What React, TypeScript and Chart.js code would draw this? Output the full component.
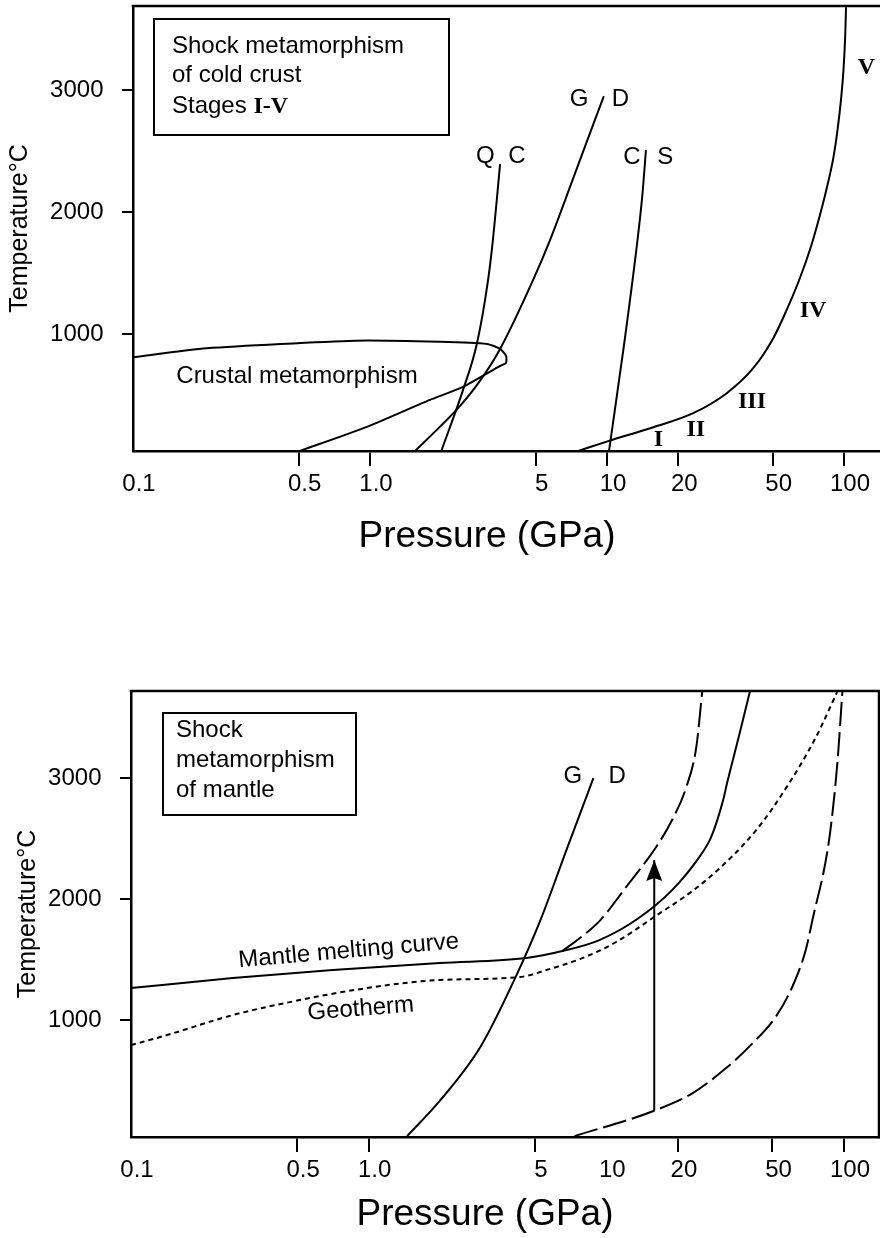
import React, { useEffect, useRef } from 'react';
import { Chart, registerables } from 'chart.js';

Chart.register(...registerables);

const SANS = "'Liberation Sans', Arial, Helvetica, sans-serif";
const SERIF = "'Liberation Serif', 'Times New Roman', Times, serif";

// ---------- axes ----------
const X_TICKS = [0.1, 0.5, 1, 5, 10, 20, 50, 100];
const X_TICK_LABELS = ['0.1', '0.5', '1.0', '5', '10', '20', '50', '100'];
const Y_TICKS = [1000, 2000, 3000];

// ---------- top panel: cold crust (P in GPa, T in °C) ----------
const CRUSTAL_P = [0.1, 0.204, 0.865, 1.97, 3.12, 3.54, 3.75, 3.75, 3.54, 2.47, 1.79, 0.971, 0.507];
const CRUSTAL_T = [809, 883, 945, 936, 918, 877, 820, 762, 738, 566, 459, 238, 41];

const QC_P = [2.0, 2.47, 2.83, 3.15, 3.3, 3.54];
const QC_T = [41, 541, 926, 1443, 1770, 2393];

const GD_TOP_P = [1.55, 1.97, 2.4, 2.91, 3.54, 4.88, 5.75, 7.47, 9.7];
const GD_TOP_T = [41, 238, 410, 615, 877, 1443, 1770, 2361, 2951];

const CS_P = [10.2, 11.8, 13.45, 14.1, 14.6];
const CS_T = [41, 910, 1770, 2139, 2508];

const SHOCK_P = [7.57, 10.2, 15.7, 23.1, 32.0, 41.4, 50.3, 57.3, 65.2, 72.9, 79.6, 85.2, 90.3, 93.9, 97.1, 99.5, 101.3, 102];
const SHOCK_T = [41, 123, 235, 350, 514, 719, 965, 1197, 1459, 1730, 1992, 2221, 2451, 2672, 2918, 3164, 3467, 3680];

// ---------- bottom panel: mantle ----------
const GD_BOT_P = [1.45, 1.99, 2.95, 4.15, 5.28, 6.79, 8.82];
const GD_BOT_T = [40, 331, 777, 1355, 1826, 2405, 3000];

const MELT_P = [0.1, 0.268, 0.706, 1.99, 4.61, 6.53, 9.35, 13.5, 18.9, 24.6, 27.35, 29.1, 31.0, 32.2, 36.4, 40.3];
const MELT_T = [1264, 1347, 1413, 1471, 1512, 1570, 1661, 1835, 2074, 2347, 2496, 2636, 2818, 2959, 3372, 3727];

const GEO_P = [0.1, 0.142, 0.268, 0.513, 0.981, 1.99, 4.31, 5.76, 7.93, 11.0, 15.2, 26.3, 42.7, 58.8, 76.2, 93.5];
const GEO_T = [793, 876, 1041, 1165, 1264, 1331, 1355, 1421, 1512, 1645, 1826, 2157, 2570, 2959, 3339, 3711];

const UPPER_DASH_P = [6.53, 7.93, 9.44, 12.1, 16.2, 18.9, 21.7, 23.9, 25.3];
const UPPER_DASH_T = [1570, 1694, 1826, 2099, 2430, 2653, 2926, 3256, 3711];

const LOWER_DASH_P = [7.34, 15.9, 23.0, 31.8, 41.2, 51.6, 60.6, 69.0, 73.6, 86.5, 93.7, 98.4];
const LOWER_DASH_T = [40, 250, 394, 601, 807, 1027, 1275, 1579, 1826, 2488, 3121, 3713];

const ARROW_P = [15.9, 15.9];
const ARROW_T = [250, 2322];

// ---------- text annotations (data coordinates) ----------
const TOP_LABELS = [
  { text: 'Q', p: 3.07, t: 2459 },
  { text: 'C', p: 4.17, t: 2459 },
  { text: 'G', p: 7.62, t: 2926 },
  { text: 'D', p: 11.4, t: 2926 },
  { text: 'C', p: 12.75, t: 2451 },
  { text: 'S', p: 17.6, t: 2451 },
  { text: 'Crustal metamorphism', p: 0.492, t: 656 },
];
const STAGE_LABELS = [
  { text: 'I', p: 16.5, t: 131 },
  { text: 'II', p: 23.7, t: 217 },
  { text: 'III', p: 40.9, t: 443 },
  { text: 'IV', p: 74.0, t: 1189 },
  { text: 'V', p: 124.5, t: 3184 },
];
const BOTTOM_LABELS = [
  { text: 'G', p: 7.23, t: 3017 },
  { text: 'D', p: 11.1, t: 3017 },
  { text: 'Mantle melting curve', p: 0.824, t: 1570, rot: -5 },
  { text: 'Geotherm', p: 0.926, t: 1091, rot: -4.5 },
];

const pts = (p: number[], t: number[]) => p.map((x, i) => ({ x, y: t[i] }));

function line(data: any[], opts: any = {}) {
  return {
    data,
    showLine: true,
    borderColor: '#000',
    backgroundColor: '#000',
    borderWidth: 2,
    pointRadius: 0,
    fill: false,
    cubicInterpolationMode: 'monotone',
    borderCapStyle: 'butt',
    borderJoinStyle: 'round',
    ...opts,
  };
}

function xScale(min: number, max: number, height: number, hidden: number[]) {
  return {
    type: 'logarithmic',
    position: 'bottom',
    min,
    max,
    afterBuildTicks: (s: any) => {
      s.ticks = X_TICKS.map((v) => ({ value: v }));
    },
    afterFit: (s: any) => {
      s.height = height;
      s.paddingLeft = 0;
      s.paddingRight = 0;
    },
    ticks: {
      autoSkip: false,
      maxRotation: 0,
      minRotation: 0,
      padding: 4,
      labelOffset: 6,
      color: '#000',
      font: { size: 24, family: SANS },
      callback: (_v: any, i: number) => X_TICK_LABELS[i],
    },
    grid: {
      drawOnChartArea: false,
      drawTicks: true,
      tickLength: 15,
      lineWidth: 2,
      color: (c: any) => (c.tick && hidden.includes(c.tick.value) ? 'rgba(0,0,0,0)' : '#000'),
    },
    border: { display: true, color: '#000', width: 2.5 },
  };
}

function yScale(min: number, max: number, width: number, titlePad: number) {
  return {
    type: 'linear',
    position: 'left',
    min,
    max,
    afterBuildTicks: (s: any) => {
      s.ticks = Y_TICKS.map((v) => ({ value: v }));
    },
    afterFit: (s: any) => {
      s.width = width;
      s.paddingTop = 0;
      s.paddingBottom = 0;
    },
    ticks: {
      padding: 18.5,
      color: '#000',
      font: { size: 24, family: SANS },
      callback: (v: any) => String(v),
    },
    grid: { drawOnChartArea: false, drawTicks: true, tickLength: 11, lineWidth: 2, color: '#000' },
    border: { display: true, color: '#000', width: 2.5 },
    title: {
      display: true,
      text: 'Temperature°C',
      color: '#000',
      font: { size: 25, family: SANS },
      padding: { top: titlePad, bottom: 0 },
    },
  };
}

function annotations(cfg: any) {
  return {
    id: 'annotations',
    afterDraw(chart: any) {
      const { ctx, chartArea: a } = chart;
      const xs = chart.scales.x;
      const ys = chart.scales.y;
      ctx.save();
      ctx.strokeStyle = '#000';
      ctx.fillStyle = '#000';
      // frame (top, and right if closed)
      ctx.lineWidth = 2.5;
      ctx.beginPath();
      ctx.moveTo(a.left - 1.25, a.top);
      if (cfg.closed) {
        ctx.lineTo(a.right, a.top);
        ctx.lineTo(a.right, a.bottom + 1.25);
      } else {
        ctx.lineTo(chart.width, a.top);
      }
      ctx.stroke();

      // data-anchored labels
      const drawLabels = (list: any[], font: string) => {
        for (const l of list) {
          const x = xs.getPixelForValue(l.p);
          const y = ys.getPixelForValue(l.t);
          ctx.save();
          ctx.translate(x, y);
          if (l.rot) ctx.rotate((l.rot * Math.PI) / 180);
          ctx.font = font;
          ctx.textAlign = 'center';
          ctx.textBaseline = 'middle';
          ctx.fillText(l.text, 0, 0);
          ctx.restore();
        }
      };
      drawLabels(cfg.labels || [], `24px ${SANS}`);
      drawLabels(cfg.serifLabels || [], `bold 24px ${SERIF}`);

      // boxed caption
      const b = cfg.box;
      ctx.lineWidth = 2;
      ctx.strokeRect(a.left + b.x, a.top + b.y, b.w, b.h);
      ctx.textAlign = 'left';
      ctx.textBaseline = 'alphabetic';
      b.lines.forEach((ln: any[], i: number) => {
        let x = a.left + b.x + b.pad;
        const y = a.top + b.y + b.base[i];
        for (const seg of ln) {
          ctx.font = seg.serif ? `bold 24px ${SERIF}` : `24px ${SANS}`;
          ctx.fillText(seg.text, x, y);
          x += ctx.measureText(seg.text).width;
        }
      });

      // arrow head
      if (cfg.arrow) {
        const n = ARROW_P.length - 1;
        const tx = xs.getPixelForValue(ARROW_P[n]);
        const ty = ys.getPixelForValue(ARROW_T[n]);
        ctx.beginPath();
        ctx.moveTo(tx, ty);
        ctx.lineTo(tx - 8, ty + 21);
        ctx.lineTo(tx, ty + 18);
        ctx.lineTo(tx + 8, ty + 21);
        ctx.closePath();
        ctx.fill();
      }

      // x axis title
      ctx.font = `37px ${SANS}`;
      ctx.textAlign = 'center';
      ctx.textBaseline = 'alphabetic';
      ctx.fillText('Pressure (GPa)', a.left + 354, a.bottom + cfg.titleDy);
      ctx.restore();
    },
  };
}

function baseOptions(padding: any, scales: any) {
  return {
    responsive: false,
    animation: false,
    devicePixelRatio: 1,
    events: [],
    layout: { padding },
    plugins: { legend: { display: false }, tooltip: { enabled: false } },
    scales,
  };
}

export default function App() {
  const topRef = useRef<HTMLCanvasElement>(null);
  const botRef = useRef<HTMLCanvasElement>(null);

  useEffect(() => {
    Chart.defaults.font.family = SANS;
    const top = new Chart(topRef.current as HTMLCanvasElement, {
      type: 'scatter',
      data: {
        datasets: [
          line(pts(CRUSTAL_P, CRUSTAL_T), { cubicInterpolationMode: 'default', tension: 0.2 }),
          line(pts(QC_P, QC_T)),
          line(pts(GD_TOP_P, GD_TOP_T)),
          line(pts(CS_P, CS_T)),
          line(pts(SHOCK_P, SHOCK_T)),
        ] as any,
      },
      options: baseOptions({ top: 6, left: 0, right: 0, bottom: 0 }, {
        x: xScale(0.1, 141.9, 119, [0.1]),
        y: yScale(40, 3690, 133, 5),
      }) as any,
      plugins: [
        annotations({
          closed: false,
          labels: TOP_LABELS,
          serifLabels: STAGE_LABELS,
          titleDy: 96,
          box: {
            x: 21, y: 13, w: 295, h: 116, pad: 18, base: [34, 63, 94],
            lines: [
              [{ text: 'Shock metamorphism' }],
              [{ text: 'of cold crust' }],
              [{ text: 'Stages ' }, { text: 'I-V', serif: true }],
            ],
          },
        }),
      ],
    });

    const bot = new Chart(botRef.current as HTMLCanvasElement, {
      type: 'scatter',
      data: {
        datasets: [
          line(pts(GD_BOT_P, GD_BOT_T)),
          line(pts(MELT_P, MELT_T)),
          line(pts(GEO_P, GEO_T), { borderDash: [5, 4] }),
          line(pts(UPPER_DASH_P, UPPER_DASH_T), { borderDash: [24, 6] }),
          line(pts(LOWER_DASH_P, LOWER_DASH_T), { borderDash: [24, 6] }),
          line(pts(ARROW_P, ARROW_T), { cubicInterpolationMode: 'default', tension: 0 }),
        ] as any,
      },
      options: baseOptions({ top: 91, left: 0, right: 1, bottom: 0 }, {
        x: xScale(0.1, 140.3, 101, [0.1, 10]),
        y: yScale(33, 3720, 131, 13.5),
      }) as any,
      plugins: [
        annotations({
          closed: true,
          labels: BOTTOM_LABELS,
          arrow: true,
          titleDy: 88,
          box: {
            x: 32, y: 22, w: 193, h: 102, pad: 13, base: [24, 54, 84],
            lines: [
              [{ text: 'Shock' }],
              [{ text: 'metamorphism' }],
              [{ text: 'of mantle' }],
            ],
          },
        }),
      ],
    });

    return () => {
      top.destroy();
      bot.destroy();
    };
  }, []);

  return (
    <div style={{ position: 'absolute', left: 0, top: 0, width: 880, height: 1238, background: '#fff' }}>
      <canvas ref={topRef} width={880} height={570} style={{ position: 'absolute', left: 0, top: 0 }} />
      <canvas ref={botRef} width={880} height={638} style={{ position: 'absolute', left: 0, top: 600 }} />
    </div>
  );
}
